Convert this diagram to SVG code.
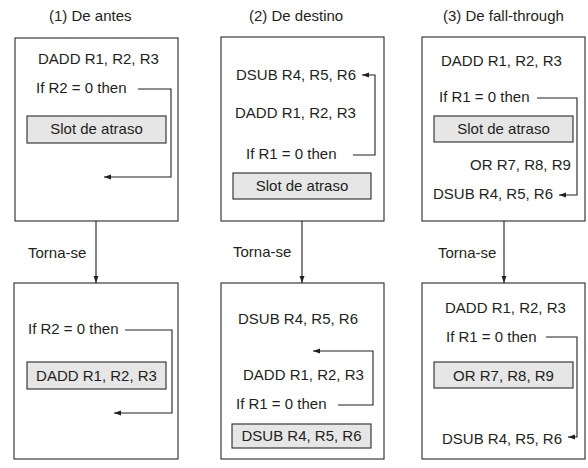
<svg xmlns="http://www.w3.org/2000/svg" width="588" height="468" viewBox="0 0 588 468">
<style>
text{font-family:"Liberation Sans",Arial,sans-serif;font-size:15px;fill:#231f20}
.box{fill:#fff;stroke:#3a3a3a;stroke-width:1.2}
.slot{fill:#e6e6e6;stroke:#3a3a3a;stroke-width:1.2}
.ln{fill:none;stroke:#231f20;stroke-width:1.1}
.mid{text-anchor:middle}
</style>
<defs>
<marker id="ah" viewBox="0 0 10 10" refX="10" refY="5" markerWidth="7" markerHeight="7" markerUnits="userSpaceOnUse" orient="auto">
<path d="M0,1.5 L10,5 L0,8.5 Z" fill="#231f20"/>
</marker>
</defs>
<rect width="588" height="468" fill="#fff"/>
<text x="49" y="21">(1) De antes</text>
<text x="249" y="21">(2) De destino</text>
<text x="443" y="21">(3) De fall-through</text>

<g id="p1top">
<rect class="box" x="15" y="38" width="163" height="183"/>
<text x="38" y="64">DADD R1, R2, R3</text>
<text x="36" y="93">If R2 = 0 then</text>
<rect class="slot" x="27" y="116" width="139" height="27"/>
<text class="mid" x="96.5" y="134">Slot de atraso</text>
</g>
<g id="p2top">
<rect class="box" x="221" y="37" width="163" height="184"/>
<text x="236" y="80">DSUB R4, R5, R6</text>
<text x="235" y="118">DADD R1, R2, R3</text>
<text x="246" y="159">If R1 = 0 then</text>
<rect class="slot" x="233" y="173" width="138" height="26"/>
<text class="mid" x="302" y="191">Slot de atraso</text>
</g>
<g id="p3top">
<rect class="box" x="422" y="37" width="163" height="184"/>
<text x="441" y="66">DADD R1, R2, R3</text>
<text x="439" y="102">If R1 = 0 then</text>
<rect class="slot" x="434" y="116" width="139" height="26"/>
<text class="mid" x="503.5" y="134">Slot de atraso</text>
<text x="470" y="170">OR R7, R8, R9</text>
<text x="433" y="199">DSUB R4, R5, R6</text>
</g>

<g id="p1bot">
<rect class="box" x="14" y="283" width="164" height="176"/>
<text x="28" y="334">If R2 = 0 then</text>
<rect class="slot" x="27" y="362" width="139" height="27"/>
<text class="mid" x="96.5" y="381">DADD R1, R2, R3</text>
</g>
<g id="p2bot">
<rect class="box" x="221" y="283" width="163" height="176"/>
<text x="238" y="324">DSUB R4, R5, R6</text>
<text x="243" y="380">DADD R1, R2, R3</text>
<text x="236" y="409">If R1 = 0 then</text>
<rect class="slot" x="232" y="424" width="139" height="24"/>
<text class="mid" x="301.5" y="441">DSUB R4, R5, R6</text>
</g>
<g id="p3bot">
<rect class="box" x="422" y="283" width="163" height="176"/>
<text x="445" y="313">DADD R1, R2, R3</text>
<text x="446" y="342">If R1 = 0 then</text>
<rect class="slot" x="434" y="362" width="139" height="26"/>
<text class="mid" x="503.5" y="381">OR R7, R8, R9</text>
<text x="442" y="444">DSUB R4, R5, R6</text>
</g>

<g id="connectors">
<path class="ln" d="M138,89 H171 V177 H104" marker-end="url(#ah)"/>
<path class="ln" d="M353,155 H375 V75 H362" marker-end="url(#ah)"/>
<path class="ln" d="M537,98 H577 V195 H559" marker-end="url(#ah)"/>
<path class="ln" d="M125,330 H172 V413 H114" marker-end="url(#ah)"/>
<path class="ln" d="M338,405 H373 V351 H313" marker-end="url(#ah)"/>
<path class="ln" d="M546,337 H577 V437 H568" marker-end="url(#ah)"/>
<path class="ln" d="M96,221 V283" marker-end="url(#ah)"/>
<path class="ln" d="M302,221 V283" marker-end="url(#ah)"/>
<path class="ln" d="M504,221 V283" marker-end="url(#ah)"/>
<text x="28" y="258">Torna-se</text>
<text x="233" y="257">Torna-se</text>
<text x="438" y="258">Torna-se</text>
</g>
</svg>
